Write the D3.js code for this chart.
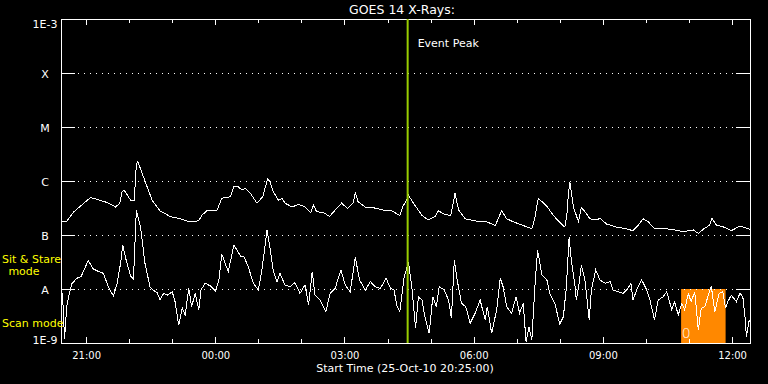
<!DOCTYPE html>
<html>
<head>
<meta charset="utf-8">
<script src="https://cdn.jsdelivr.net/npm/d3@7"></script>
<style>
  body { margin: 0; background: #000; }
  svg { display: block; background: #000; }
  text { font-family: "DejaVu Sans", sans-serif; fill: #fff; }
  .axis path { display: none; }
  .axis line { stroke: #fff; shape-rendering: crispEdges; }
  .axis text { font-size: 10px; fill: #fff; font-family: "DejaVu Sans", sans-serif; }
</style>
</head>
<body>
<script>
// minutes after start (25-Oct-10 20:25:00) and flux in W/m^2
var startTime = new Date(2010, 9, 25, 20, 25),
  endTime = new Date(2010, 9, 26, 12, 25);

var longMin = [0, 8, 18, 32, 41, 50, 64, 76, 82, 85, 88, 97, 102, 105, 107, 113, 120, 127, 138, 152,
  166, 176, 185, 192, 196, 203, 217, 224, 236, 241, 247, 252, 257, 264, 273, 281, 288, 291, 296, 303,
  308, 312, 322, 331, 340, 348, 352, 356, 366, 374, 382, 391, 399, 407, 410, 414, 424, 435, 449, 461,
  472, 476, 482, 484, 491, 503, 512, 521, 526, 535, 543, 549, 554, 563, 579, 593, 605, 614, 621, 630,
  644, 656, 660, 665, 677, 686, 695, 702, 705, 707, 709, 714, 721, 725, 730, 737, 746, 751, 760, 774,
  788, 797, 804, 811, 818, 827, 844, 855, 867, 881, 888, 895, 904, 907, 913, 922, 934, 946, 960];
var longFlux = [1.8e-7, 1.8e-7, 2.7e-7, 3.9e-7, 4.9e-7, 4.6e-7, 4.0e-7, 3.3e-7, 3.9e-7, 6.3e-7,
  6.8e-7, 4.4e-7, 4.4e-7, 2.0e-6, 2.3e-6, 1.4e-6, 7.8e-7, 4.4e-7, 2.8e-7, 2.2e-7,
  2.0e-7, 1.8e-7, 1.76e-7, 1.84e-7, 2.3e-7, 2.8e-7, 2.8e-7, 4.8e-7, 5.1e-7, 8.1e-7,
  7.8e-7, 6.8e-7, 7.3e-7, 5.9e-7, 3.9e-7, 5.1e-7, 1.1e-6, 9.7e-7, 6.3e-7, 4.4e-7,
  4.8e-7, 3.9e-7, 3.3e-7, 3.7e-7, 3.3e-7, 2.6e-7, 3.6e-7, 2.7e-7, 2.6e-7, 2.2e-7,
  2.9e-7, 3.9e-7, 3.1e-7, 3.9e-7, 6.1e-7, 4.1e-7, 3.3e-7, 3.2e-7, 2.9e-7, 2.8e-7,
  2.3e-7, 3.3e-7, 4.6e-7, 5.5e-7, 3.9e-7, 2.3e-7, 1.9e-7, 2.2e-7, 2.8e-7, 2.4e-7,
  2.3e-7, 5.9e-7, 2.9e-7, 2.0e-7, 1.8e-7, 1.76e-7, 1.5e-7, 2.8e-7, 2.0e-7, 1.76e-7,
  1.5e-7, 1.3e-7, 2.0e-7, 4.8e-7, 3.4e-7, 2.3e-7, 1.7e-7, 1.4e-7, 2.5e-7, 5.9e-7,
  9.7e-7, 3.3e-7, 1.76e-7, 3.25e-7, 2.7e-7, 2.0e-7, 1.9e-7, 2.04e-7, 1.6e-7, 1.4e-7,
  1.3e-7, 1.2e-7, 1.5e-7, 2.0e-7, 1.76e-7, 1.33e-7, 1.3e-7, 1.24e-7, 1.15e-7, 1.24e-7,
  1.07e-7, 1.28e-7, 1.53e-7, 2.04e-7, 1.53e-7, 1.43e-7, 1.2e-7, 1.47e-7, 1.28e-7];

var shortMin = [0, 2, 5, 8, 11, 15, 22, 28, 38, 45, 51, 59, 66, 73, 78, 83, 86, 90, 97, 101,
  105, 111, 117, 124, 128, 134, 138, 143, 148, 155, 159, 164, 169, 173, 178, 182, 187, 192, 195, 201,
  208, 215, 220, 224, 233, 241, 250, 255, 261, 268, 275, 280, 287, 291, 296, 301, 305, 312, 319, 326,
  333, 340, 345, 350, 354, 361, 369, 375, 382, 390, 396, 403, 410, 416, 424, 431, 438, 445, 453, 459,
  464, 468, 472, 478, 484, 489, 494, 498, 503, 507, 513, 518, 523, 527, 534, 540, 544, 548, 552, 558,
  564, 570, 577, 584, 591, 594, 600, 607, 612, 616, 621, 628, 634, 639, 644, 648, 652, 656, 660, 664,
  670, 677, 681, 688, 695, 700, 704, 708, 711, 716, 718, 722, 725, 730, 736, 739, 745, 751, 758, 765,
  769, 776, 783, 790, 794, 797, 803, 809, 815, 820, 827, 832, 839, 844, 851, 855, 860, 865, 869, 874,
  878, 883, 888, 892, 897, 902, 906, 911, 917, 922, 926, 929, 934, 941, 946, 950, 953, 955, 959];
var shortFlux = [4.7e-9, 8.4e-9, 1.2e-9, 4.7e-9, 7.7e-9, 1.24e-8, 1.58e-8, 1.7e-8, 3.37e-8, 2.35e-8,
  2.15e-8, 1.95e-8, 1.1e-8, 7.4e-9, 1.24e-8, 2.99e-8, 6.53e-8, 3.75e-8, 1.74e-8, 1.53e-8,
  2.9e-7, 1.35e-7, 2.99e-8, 1.1e-8, 9.6e-9, 8.6e-9, 6.25e-9, 8.3e-9, 7.7e-9, 8.9e-9,
  5.8e-9, 2.15e-9, 4.4e-9, 3.3e-9, 1.03e-8, 4.7e-9, 8.3e-9, 4.1e-9, 9.6e-9, 1.28e-8,
  1.14e-8, 9.2e-9, 1.47e-8, 4.45e-8, 2.09e-8, 6.53e-8, 4.08e-8, 3.96e-8, 2.55e-8, 1.28e-8,
  9.6e-9, 2.25e-8, 1.24e-7, 6.07e-8, 2.09e-8, 1.37e-8, 1.95e-8, 1.19e-8, 1.1e-8, 1.31e-8,
  8.3e-9, 1.19e-8, 5.05e-9, 2.09e-8, 7.7e-9, 6.25e-9, 3.8e-9, 8.3e-9, 1.03e-8, 2.25e-8,
  1.19e-8, 8.9e-9, 3.86e-8, 1.47e-8, 9.6e-9, 1.37e-8, 1.1e-8, 1.03e-8, 1.58e-8, 1.03e-8,
  9.6e-9, 4.84e-9, 3.8e-9, 1.6e-8, 3.2e-8, 1.03e-8, 1.87e-9, 7.1e-9, 6.25e-9, 3.07e-9,
  1.51e-9, 7.2e-9, 4.7e-9, 1.1e-8, 9.6e-9, 6.25e-9, 2.87e-9, 3.44e-8, 1.47e-8, 5.43e-9,
  4.7e-9, 2.32e-9, 3.55e-9, 6.25e-9, 2.67e-9, 4.7e-9, 1.51e-9, 4.1e-9, 1.58e-8, 1.1e-8,
  4.7e-9, 3.55e-9, 7.2e-9, 3.55e-9, 5.43e-9, 1.06e-9, 2.0e-9, 1.14e-9, 9.6e-9, 5.27e-8,
  1.82e-8, 1.47e-8, 8.3e-9, 5.43e-9, 2.25e-9, 3.07e-9, 1.04e-8, 8.99e-8, 3.44e-8, 1.19e-8,
  6.25e-9, 1.28e-8, 2.78e-8, 1.47e-8, 2.67e-9, 9.6e-9, 2.25e-8, 1.47e-8, 1.28e-8, 1.37e-8,
  9.6e-9, 8.9e-9, 8.3e-9, 1.03e-8, 1.28e-8, 6.25e-9, 1.03e-8, 1.47e-8, 1.03e-8, 6.73e-9,
  2.67e-9, 6.25e-9, 7.2e-9, 8.9e-9, 4.1e-9, 5.8e-9, 3.3e-9, 5.43e-9, 4.1e-9, 8.3e-9,
  5.8e-9, 8.9e-9, 1.74e-9, 4.4e-9, 4.7e-9, 7.7e-9, 1.14e-8, 3.8e-9, 8.3e-9, 8.9e-9,
  4.4e-9, 5.8e-9, 7.7e-9, 5.8e-9, 8.3e-9, 7.2e-9, 3.07e-9, 1.31e-9, 2.67e-9];

var yTickValues = [1e-9, 1e-8, 1e-7, 1e-6, 1e-5, 1e-4, 1e-3];
var yTickLabels = ["1E-9", "A", "B", "C", "M", "X", "1E-3"];
var gridValues = [1e-8, 1e-7, 1e-6, 1e-5, 1e-4];

var eventPeakMin = 483;          // 04:28
var scanStartMin = 864, scanEndMin = 926;   // scan-mode block
var scanLabel = "0";

var width = 768,
  height = 384,
  margin = {top: 19, right: 18, bottom: 41, left: 61};

var x = d3.scaleTime()
    .domain([startTime, endTime])
    .range([margin.left, width - margin.right]);

var y = d3.scaleLog()
    .domain([1e-9, 1e-3])
    .range([height - margin.bottom, margin.top]);

function minToDate(m) { return d3.timeMinute.offset(startTime, m); }

var svg = d3.select("body").append("svg")
    .attr("width", width)
    .attr("height", height);

// scan mode block
svg.append("rect")
    .attr("x", x(minToDate(scanStartMin)))
    .attr("y", y(1e-8))
    .attr("width", x(minToDate(scanEndMin)) - x(minToDate(scanStartMin)))
    .attr("height", y(1e-9) - y(1e-8))
    .attr("fill", "#ff8800");

svg.append("text")
    .attr("x", x(minToDate(scanStartMin)) + 5)
    .attr("y", y(1e-9) - 5)
    .attr("text-anchor", "middle")
    .style("font-size", "14px")
    .style("font-weight", 200)
    .text(scanLabel);

// dotted grid
svg.selectAll(".grid")
    .data(gridValues)
  .enter().append("line")
    .attr("class", "grid")
    .attr("x1", margin.left + 17)
    .attr("x2", width - margin.right - 14)
    .attr("y1", function(d) { return Math.round(y(d)) + 0.5; })
    .attr("y2", function(d) { return Math.round(y(d)) + 0.5; })
    .attr("stroke", "#fff")
    .attr("stroke-dasharray", "1,5");

// axes
var bottom = height - margin.bottom, right = width - margin.right;

svg.append("g").attr("class", "axis")
    .attr("transform", "translate(0," + bottom + ")")
    .call(d3.axisBottom(x).ticks(d3.timeHour.every(1)).tickSize(-4).tickFormat(""));
svg.append("g").attr("class", "axis")
    .attr("transform", "translate(0," + bottom + ")")
    .call(d3.axisBottom(x).ticks(d3.timeHour.every(3)).tickSize(-6).tickPadding(9)
      .tickFormat(d3.timeFormat("%H:%M")));
svg.append("g").attr("class", "axis")
    .attr("transform", "translate(0," + margin.top + ")")
    .call(d3.axisTop(x).ticks(d3.timeHour.every(1)).tickSize(-4).tickFormat(""));
svg.append("g").attr("class", "axis")
    .attr("transform", "translate(0," + margin.top + ")")
    .call(d3.axisTop(x).ticks(d3.timeHour.every(3)).tickSize(-6).tickFormat(""));
svg.append("g").attr("class", "axis")
    .attr("transform", "translate(" + margin.left + ",0)")
    .call(d3.axisLeft(y).tickValues(yTickValues).tickSize(-14).tickFormat(""));
svg.append("g").attr("class", "axis")
    .attr("transform", "translate(" + right + ",0)")
    .call(d3.axisRight(y).tickValues(yTickValues).tickSize(-14).tickFormat(""));

svg.append("rect")
    .attr("x", margin.left)
    .attr("y", margin.top)
    .attr("width", right - margin.left)
    .attr("height", bottom - margin.top)
    .attr("fill", "none")
    .attr("stroke", "#fff")
    .style("shape-rendering", "crispEdges");

svg.selectAll(".ylabel")
    .data(yTickValues)
  .enter().append("text")
    .attr("class", "ylabel")
    .attr("x", 45)
    .attr("y", function(d, i) {
      if (i === 0) return y(d) + 1;
      if (i === yTickValues.length - 1) return y(d) + 8.5;
      return y(d) + 4.5;
    })
    .attr("text-anchor", "middle")
    .style("font-size", "11px")
    .text(function(d, i) { return yTickLabels[i]; });

// curves
var line = d3.line()
    .x(function(d) { return x(minToDate(d[0])); })
    .y(function(d) { return y(d[1]); });

svg.append("path")
    .datum(d3.zip(shortMin, shortFlux))
    .attr("d", line)
    .attr("fill", "none")
    .attr("stroke", "#fff")
    .style("shape-rendering", "crispEdges");

svg.append("path")
    .datum(d3.zip(longMin, longFlux))
    .attr("d", line)
    .attr("fill", "none")
    .attr("stroke", "#fff")
    .style("shape-rendering", "crispEdges");

// event peak
var ex = x(minToDate(eventPeakMin));
svg.append("line")
    .attr("x1", ex).attr("x2", ex)
    .attr("y1", margin.top).attr("y2", bottom)
    .attr("stroke", "#99cc00")
    .attr("stroke-width", 2);

svg.append("text")
    .attr("x", ex + 10)
    .attr("y", 47)
    .style("font-size", "11px")
    .text("Event Peak");

// titles
svg.append("text")
    .attr("x", 402)
    .attr("y", 14)
    .attr("text-anchor", "middle")
    .style("font-size", "12.5px")
    .text("GOES 14 X-Rays:");

svg.append("text")
    .attr("x", 405)
    .attr("y", 372)
    .attr("text-anchor", "middle")
    .style("font-size", "11px")
    .text("Start Time (25-Oct-10 20:25:00)");

// mode labels
svg.append("text").attr("x", 2).attr("y", 263)
    .style("font-size", "11px").style("fill", "#ffff00").text("Sit & Stare");
svg.append("text").attr("x", 24).attr("y", 275).attr("text-anchor", "middle")
    .style("font-size", "11px").style("fill", "#ffff00").text("mode");
svg.append("text").attr("x", 2).attr("y", 327)
    .style("font-size", "11px").style("fill", "#ffff00").text("Scan mode");
</script>
</body>
</html>
